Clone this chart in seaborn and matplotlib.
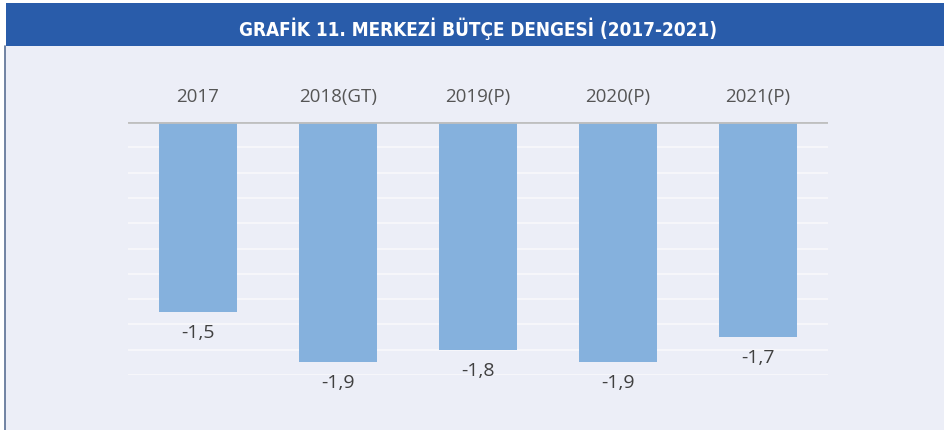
import matplotlib
matplotlib.use("Agg")
import matplotlib.pyplot as plt
from matplotlib.patches import Rectangle
from matplotlib.lines import Line2D
import seaborn as sns
import pandas as pd
import numpy as np

categories = ["2017", "2018(GT)", "2019(P)", "2020(P)", "2021(P)"]
values = [-1.5, -1.9, -1.8, -1.9, -1.7]
value_labels = ["-1,5", "-1,9", "-1,8", "-1,9", "-1,7"]
title = "GRAFİK 11. MERKEZİ BÜTÇE DENGESİ (2017-2021)"

BG = "#eceef7"
BAR = "#85b1dd"
BLUE = "#295caa"
TXT = "#404040"
CAT_TXT = "#555555"

sns.set_theme(style="white")
plt.rcParams["font.family"] = ["Open Sans", "DejaVu Sans"]

fig = plt.figure(figsize=(9.45, 4.31), dpi=100)
fig.patch.set_facecolor("white")
W, H = 945, 431

# background panel
fig.add_artist(Rectangle((5 / W, 0), 1, 1 - 47 / H, transform=fig.transFigure,
                         facecolor=BG, edgecolor="none", zorder=0))
# title bar
fig.add_artist(Rectangle((6 / W, 1 - 47 / H), 1, 43 / H, transform=fig.transFigure,
                         facecolor=BLUE, edgecolor="none", zorder=1))
t = fig.text(478 / W, 1 - 29 / H, title, ha="center", va="center", color="white",
             fontsize=14, fontweight="bold", family=["DejaVu Sans"], fontstretch="condensed")
# left border line
fig.add_artist(Line2D([5.5 / W, 5.5 / W], [0, 1 - 47 / H], transform=fig.transFigure,
                      color="#5a6f94", lw=1.2, zorder=2))

ax = fig.add_axes([128 / W, 1 - 376 / H, 700 / W, 253 / H])
ax.set_facecolor("none")
df = pd.DataFrame({"cat": categories, "val": values})
sns.barplot(data=df, x="cat", y="val", color=BAR, saturation=1, width=0.56, ax=ax,
            zorder=3, linewidth=0)

ax.set_xlim(-0.5, 4.5)
ax.set_ylim(-2.0, 0)
for yv in np.arange(-2.0, 0.0, 0.2):
    ax.axhline(yv, color="#f6f6fa", lw=1.5, zorder=1)
ax.axhline(0, color="#bfbfbf", lw=2, zorder=4)

for s in ax.spines.values():
    s.set_visible(False)
ax.set_yticks([])
ax.set_xlabel("")
ax.set_ylabel("")
ax.xaxis.tick_top()
ax.tick_params(axis="x", length=0, pad=12, labelsize=13.5, labelcolor=CAT_TXT)

for i, (v, lbl) in enumerate(zip(values, value_labels)):
    ax.annotate(lbl, (i, v), xytext=(0, -14.5), textcoords="offset points",
                ha="center", va="center", fontsize=14, color=TXT)

# fit the title to the reference width
fig.canvas.draw()
bb = t.get_window_extent()
target = 482
if bb.width > target * 1.02:
    t.set_fontsize(14 * target / bb.width)

fig.savefig("out.png", dpi=100, facecolor=fig.get_facecolor())
